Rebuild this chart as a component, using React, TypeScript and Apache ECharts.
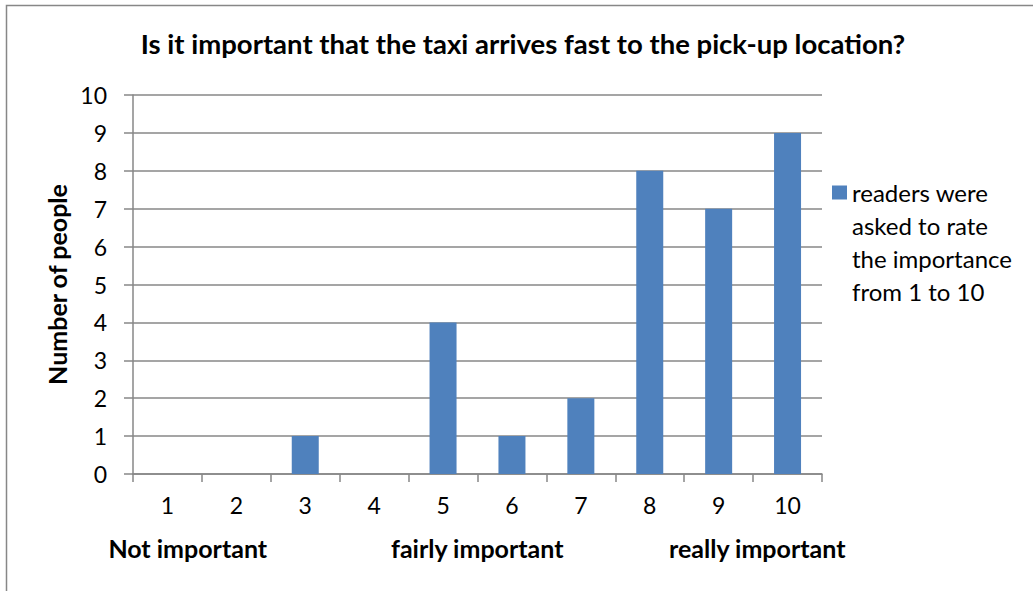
import React, { useEffect, useRef } from "react";
import * as echarts from "echarts";

const categories = ["1", "2", "3", "4", "5", "6", "7", "8", "9", "10"];
const values = [0, 0, 1, 0, 4, 1, 2, 8, 7, 9];
const seriesName = "readers were asked to rate the importance from 1 to 10";
const legendLines = ["readers were", "asked to rate", "the importance", "from 1 to 10"];
const titleText = "Is it important that the taxi arrives fast to the pick-up location?";
const yAxisTitle = "Number of people";
const scaleLabels = ["Not important", "fairly important", "really important"];

const FONT = "Lato, 'Noto Sans', sans-serif";
const GREY = "#878787";

export default function App() {
  const ref = useRef<HTMLDivElement>(null);
  useEffect(() => {
    if (!ref.current) return;
    const chart = echarts.init(ref.current, undefined, { renderer: "svg" });
    chart.setOption({
      animation: false,
      textStyle: { fontFamily: FONT },
      title: {
        text: titleText,
        left: 523,
        textAlign: "center",
        top: 29,
        padding: 0,
        textStyle: { fontSize: 27.5, fontWeight: "bold", color: "#000", fontFamily: FONT },
      },
      graphic: [
        {
          type: "rect",
          shape: { x: 6.5, y: 5.5, width: 1200, height: 800 },
          style: { fill: "none", stroke: GREY, lineWidth: 1.5 },
          silent: true,
        },
      ],
      legend: {
        left: 832,
        top: 77,
        padding: 0,
        itemWidth: 15,
        itemHeight: 14,
        icon: "rect",
        data: [seriesName],
        formatter: () => "\n\n\n" + legendLines.join("\n"),
        textStyle: {
          fontSize: 24,
          color: "#000",
          lineHeight: 33,
          fontFamily: FONT,
        },
      },
      grid: { left: 133, top: 95, right: 211, bottom: 117, containLabel: false },
      xAxis: {
        type: "category",
        data: categories,
        axisLine: { show: true, lineStyle: { color: GREY, width: 1.5 } },
        axisTick: { show: true, length: 8, lineStyle: { color: GREY, width: 1.5 } },
        axisLabel: { color: "#000", fontSize: 23, margin: 19, fontFamily: FONT },
        name: `{a|${scaleLabels[0]}}{s1|}{b|${scaleLabels[1]}}{s2|}{c|${scaleLabels[2]}}`,
        nameLocation: "middle",
        nameGap: 61,
        nameTextStyle: {
          fontFamily: FONT,
          rich: {
            a: { width: 170, align: "center", fontSize: 25, fontWeight: "bold", color: "#000", fontFamily: FONT },
            s1: { width: 109.5 },
            b: { width: 190, align: "center", fontSize: 25, fontWeight: "bold", color: "#000", fontFamily: FONT },
            s2: { width: 90 },
            c: { width: 190, align: "center", fontSize: 25, fontWeight: "bold", color: "#000", fontFamily: FONT },
          },
        },
      },
      yAxis: {
        type: "value",
        min: 0,
        max: 10,
        interval: 1,
        axisLine: { show: true, lineStyle: { color: GREY, width: 1.5 } },
        axisTick: { show: true, length: 9, lineStyle: { color: GREY, width: 1.5 } },
        axisLabel: { color: "#000", fontSize: 23, margin: 26, fontFamily: FONT },
        splitLine: { show: true, lineStyle: { color: GREY, width: 1.5 } },
        name: yAxisTitle,
        nameLocation: "middle",
        nameGap: 59,
        nameTextStyle: { fontSize: 25, fontWeight: "bold", color: "#000", fontFamily: FONT },
      },
      series: [
        {
          name: seriesName,
          type: "bar",
          data: values,
          barWidth: 27,
          itemStyle: { color: "#4F81BD" },
        },
      ],
    });
    return () => chart.dispose();
  }, []);
  return (
    <div
      ref={ref}
      style={{ position: "absolute", left: 0, top: 0, width: 1033, height: 591 }}
    />
  );
}
